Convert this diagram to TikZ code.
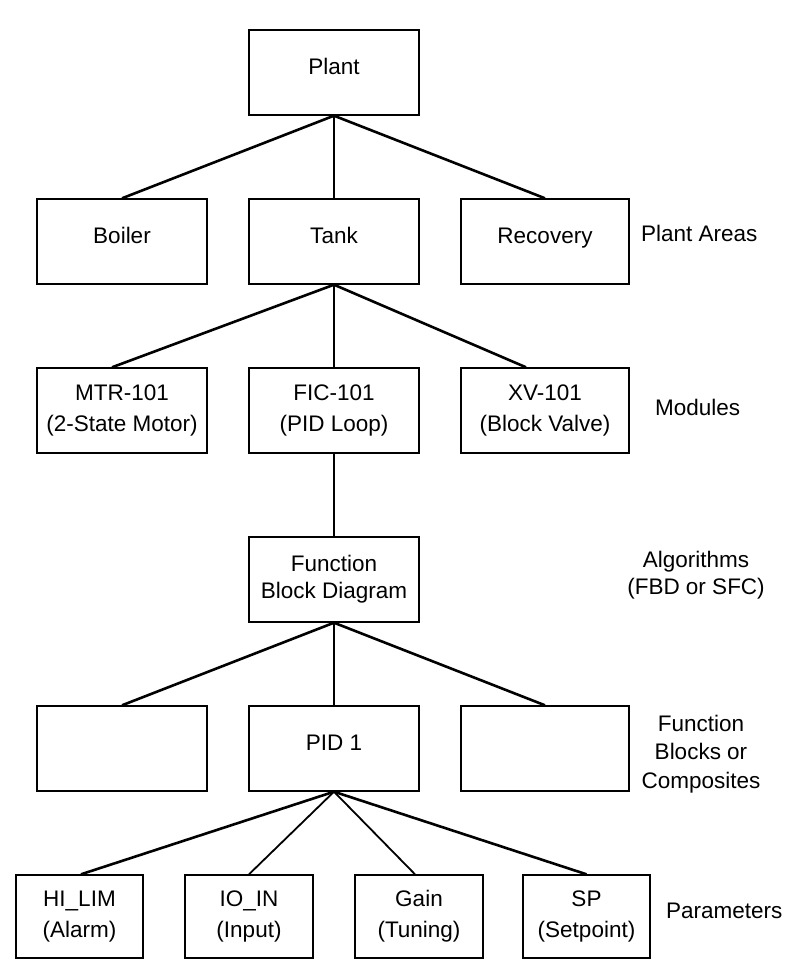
\documentclass[tikz,border=0pt]{standalone}
\usepackage{fontspec}
\setmainfont{Liberation Sans}
\usetikzlibrary{calc}
\begin{document}
\begin{tikzpicture}[x=1pt,y=-1pt,
  box/.style={draw, line width=1.4pt, inner sep=0pt, align=center,
    minimum width=170pt, minimum height=85pt,
    font=\fontsize{22.5}{31}\selectfont},
  pbox/.style={box, minimum width=127pt, minimum height=83pt},
  one/.style={text height=16pt, text depth=12pt},
  lbl/.style={align=center, inner sep=0pt, font=\fontsize{22.5}{28.5}\selectfont},
  diag/.style={line width=2.6pt},
  steep/.style={line width=1.8pt},
  vert/.style={line width=1.2pt}]
\useasboundingbox (0,0) rectangle (805,972);

% level 0
\node[box, one] (plant) at (334,72.5) {Plant};
% plant areas
\node[box, one] (boiler) at (122,241.5) {Boiler};
\node[box, one] (tank) at (334,241.5) {Tank};
\node[box, one, minimum width=168pt] (recovery) at (545,241.5) {Recovery};
\node[lbl, anchor=west] (areas) at (641,233) {Plant Areas};
% modules
\node[box] (mtr) at (122,410.5) {MTR-101\\(2-State Motor)};
\node[box] (fic) at (334,410.5) {FIC-101\\(PID Loop)};
\node[box, minimum width=168pt] (xv) at (545,410.5) {XV-101\\(Block Valve)};
\node[lbl, anchor=west] (modules) at (655,407) {Modules};
% algorithms
\node[box, font=\fontsize{22.5}{27}\selectfont] (fbd) at (334,579.5) {Function\\Block Diagram};
\node[lbl, font=\fontsize{22.5}{27}\selectfont] (alg) at (696,575.5) {Algorithms\\(FBD or SFC)};
% function blocks
\node[box] (fb1) at (122,748.5) {};
\node[box, one] (pid) at (334,748.5) {PID 1};
\node[box, minimum width=168pt] (fb3) at (545,748.5) {};
\node[lbl] (fbl) at (701,754) {Function\\Blocks or\\Composites};
% parameters
\node[pbox] (hilim) at (79.5,916.5) {HI\_LIM\\(Alarm)};
\node[pbox, minimum width=128pt] (ioin) at (249,916.5) {IO\_IN\\(Input)};
\node[pbox, minimum width=128pt] (gain) at (419,916.5) {Gain\\(Tuning)};
\node[pbox] (sp) at (586.5,916.5) {SP\\(Setpoint)};
\node[lbl, anchor=west] (params) at (666,911) {Parameters};

% connectors
\draw[diag] (plant.south) -- (boiler.north);
\draw[vert] (plant.south) -- (tank.north);
\draw[diag] (plant.south) -- (recovery.north);

\draw[diag] (tank.south) -- ($(mtr.north)+(-10,0)$);
\draw[vert] (tank.south) -- (fic.north);
\draw[diag] (tank.south) -- ($(xv.north)+(-19,0)$);

\draw[vert] (fic.south) -- (fbd.north);

\draw[diag] (fbd.south) -- (fb1.north);
\draw[vert] (fbd.south) -- (pid.north);
\draw[diag] (fbd.south) -- (fb3.north);

\draw[diag] (pid.south) -- ($(hilim.north)+(1.5,0)$);
\draw[steep] (pid.south) -- (ioin.north);
\draw[steep] (pid.south) -- ($(gain.north)+(-4,0)$);
\draw[diag] (pid.south) -- (sp.north);
\end{tikzpicture}
\end{document}
